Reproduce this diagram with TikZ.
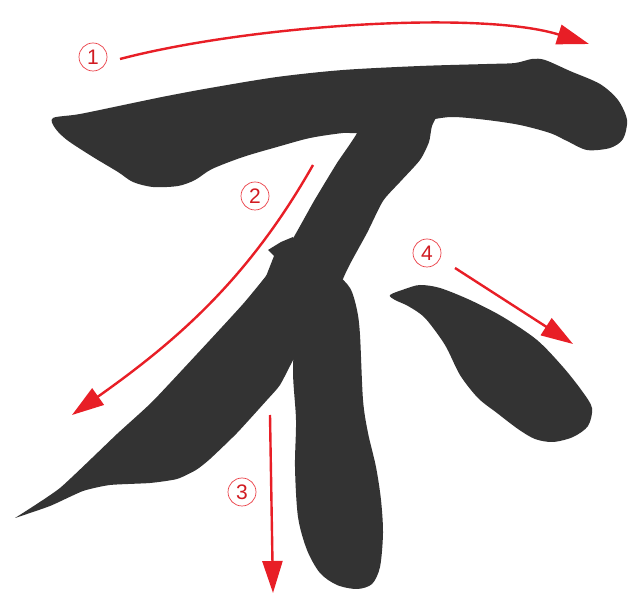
\documentclass[tikz,border=0pt]{standalone}
\usepackage{fontspec}
\setmainfont{Liberation Sans}
\usetikzlibrary{arrows.meta}
\definecolor{ink}{RGB}{51,51,51}
\definecolor{arrred}{RGB}{232,30,38}
\begin{document}
\begin{tikzpicture}[x=1pt,y=-1pt,
  redarrow/.style={draw=arrred, line width=2.4pt, -{Triangle[length=32pt,width=20pt]}},
  numlabel/.style={circle, draw=arrred!85, line width=0.7pt, text=arrred!90!black, minimum size=28pt, inner sep=0pt, font=\fontsize{21}{21}\selectfont}]
\useasboundingbox (0,0) rectangle (630,601);
\fill[white] (0,0) rectangle (630,601);
% stroke 1: horizontal
\fill[ink] plot[smooth cycle, tension=0.5] coordinates {(53,118) (80,114) (133,103) (167,96) (210,88) (277,77) (343,70) (420,66) (487,64) (515,63) (532,59) (545,60) (570,71) (600,84) (618,100) (627,120) (623,139) (610,148) (587,150) (567,141) (550,133) (520,125) (487,120) (453,117) (430,120) (400,128) (357,133) (343,133) (310,138) (277,147) (243,157) (212,169) (195,180) (178,186) (153,187) (133,182) (118,172) (93,157) (67,140) (55,128)};
% stroke 2: left-falling
\fill[ink] plot[smooth, tension=0.3] coordinates {(15,518) (60,488) (117,434) (153,401) (210,340) (243,304) (266,276) (292,240) (314,201) (337,163) (357,133) (360,110)}
  -- plot[smooth, tension=0.4] coordinates {(440,110) (432,126) (429,142) (420,160) (400,182) (383,201) (367,233) (347,270) (325,320) (305,355)}
  -- plot[smooth, tension=0.35] coordinates {(293,360) (280,385) (267,400) (237,433) (210,459) (196,470) (177,479) (150,483) (110,485) (83,491) (50,506) (15,518)} -- cycle;
\fill[ink] (293,237) -- (281,242) -- (268,250) -- (274,256) -- (265,279) -- (295,270) -- cycle;
% stroke 3: vertical
\fill[ink] plot[smooth cycle, tension=0.5] coordinates {(310,280) (335,275) (350,288) (357,310) (360,335) (363,400) (368,433) (376,467) (381,500) (383,533) (380,567) (372,584) (357,589) (337,585) (320,573) (307,550) (298,517) (295,467) (296,420) (293,370) (297,320)};
% stroke 4: dot
\fill[ink] plot[smooth cycle, tension=0.5] coordinates {(390,295) (405,289) (420,285) (440,288) (470,300) (503,317) (537,340) (563,367) (582,391) (592,408) (588,426) (573,437) (553,442) (535,439) (518,429) (497,413) (478,398) (460,375) (445,345) (425,318) (408,306) (395,300)};
% arrows
\coordinate (a1s) at (120,59); \coordinate (a1e) at (589,44);
\coordinate (a2s) at (313,165); \coordinate (a2e) at (72,415);
\coordinate (a3s) at (270,415); \coordinate (a3e) at (273,593);
\coordinate (a4s) at (455,268); \coordinate (a4e) at (573,344);
\draw[redarrow] (a1s) .. controls (250,25) and (480,10) .. (a1e);
\draw[redarrow] (a2s) .. controls (249,278) and (178,340) .. (a2e);
\draw[redarrow] (a3s) -- (a3e);
\draw[redarrow] (a4s) -- (a4e);
% labels
\node[numlabel] (n1) at (93,57) {1};
\node[numlabel] (n2) at (255,196) {2};
\node[numlabel] (n3) at (242,492) {3};
\node[numlabel] (n4) at (427,253) {4};
\end{tikzpicture}
\end{document}
